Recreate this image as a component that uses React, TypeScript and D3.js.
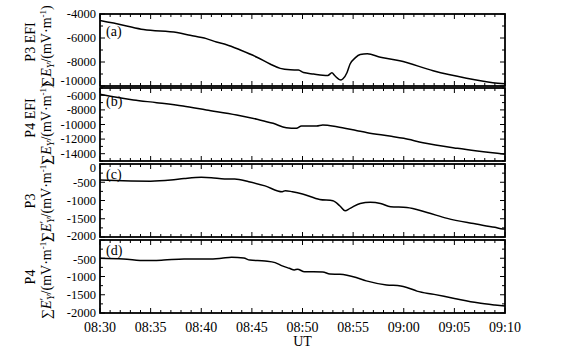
import * as d3 from "d3";

// minutes after 08:30 and summed field values
const p3EfiT = [0, 2.3, 4.3, 7.6, 8.9, 10.5, 11.5, 12.5, 13.8, 15.5, 16.8, 17.8, 18.8, 19.6, 20.1, 21.1, 22.0, 22.5, 22.9, 23.2, 23.8, 24.0, 24.4, 24.7, 25.2, 25.7, 26.4, 27.7, 29.6, 32.9, 36.2, 38.8, 40];
const p3EfiV = [-4550, -4930, -5300, -5550, -5770, -6050, -6340, -6560, -6980, -7600, -8170, -8530, -8650, -8670, -8880, -9000, -9100, -9120, -8900, -9150, -9500, -9400, -8870, -8170, -7660, -7380, -7320, -7600, -7890, -8730, -9350, -9720, -9820];

const p4EfiT = [0, 3.3, 5.6, 8.2, 10.5, 13.5, 15.5, 17.1, 18.4, 19.4, 19.9, 21.4, 22.0, 23.4, 25.4, 26.4, 28.6, 30, 31.9, 35.3, 40];
const p4EfiV = [-5860, -6640, -7010, -7470, -8010, -8700, -9290, -9840, -10440, -10520, -10210, -10210, -10070, -10300, -10850, -11120, -11580, -11890, -12490, -13260, -14080];

const p3T = [0, 2.3, 5, 7, 8.3, 10, 11, 12.3, 13.3, 14.7, 16.3, 18, 18.3, 19, 20, 21.7, 23, 23.7, 24.2, 24.7, 25.7, 26.7, 27.7, 28.7, 30.3, 32.3, 34.3, 36.7, 39, 39.8, 40];
const p3V = [-440, -460, -470, -440, -400, -365, -375, -410, -410, -485, -600, -760, -730, -760, -820, -970, -1005, -1150, -1280, -1215, -1080, -1050, -1080, -1170, -1190, -1330, -1490, -1625, -1735, -1780, -1780];

const p4T = [0, 2.3, 4.5, 6.3, 8.3, 10.7, 12, 13, 14.2, 14.8, 16.3, 17.3, 18, 18.7, 19.2, 19.5, 20.2, 22, 22.7, 23.7, 25.3, 26.3, 28.3, 29.7, 30.3, 31.3, 33, 35, 37.3, 39, 40];
const p4V = [-500, -520, -565, -550, -520, -520, -500, -475, -495, -550, -575, -620, -710, -775, -820, -800, -870, -875, -930, -940, -1030, -1120, -1230, -1260, -1300, -1400, -1490, -1600, -1720, -1780, -1810];

const timeLabels = ["08:30", "08:35", "08:40", "08:45", "08:50", "08:55", "09:00", "09:05", "09:10"];
const panelLetters = ["(a)", "(b)", "(c)", "(d)"];
const panelNames = ["P3 EFI", "P4 EFI", "P3", "P4"];

const aTicks = [-4000, -6000, -8000, -10000];
const bTicks = [-6000, -8000, -10000, -12000, -14000];
const cTicks = [0, -500, -1000, -1500, -2000];
const dTicks = [-500, -1000, -1500, -2000];

const W = 566;
const H = 349;
const left = 100;
const right = 505;
const font = "'Liberation Serif', 'Times New Roman', serif";

const panels = [
  { t: p3EfiT, v: p3EfiV, top: 14, bottom: 86, domain: [-10000, -4000], ticks: aTicks, minor: 1000, prime: false, nameY: 42, unitY: 46, letterDy: 22, nudge: { "-10000": -5 } },
  { t: p4EfiT, v: p4EfiV, top: 88, bottom: 161, domain: [-15000, -5000], ticks: bTicks, minor: 1000, prime: false, nameY: 118, unitY: 124, letterDy: 18, nudge: {} },
  { t: p3T, v: p3V, top: 164, bottom: 237, domain: [-2000, 0], ticks: cTicks, minor: 250, prime: true, nameY: 201, unitY: 201, letterDy: 15, nudge: { "0": 4, "-2000": -1 } },
  { t: p4T, v: p4V, top: 240, bottom: 313, domain: [-2000, 0], ticks: dTicks, minor: 250, prime: true, nameY: 277, unitY: 278, letterDy: 15, nudge: { "-500": 1 } },
];

const x = d3.scaleLinear().domain([0, 40]).range([left, right]);

function UnitLabel({ cx, cy, prime }: { cx: number; cy: number; prime: boolean }) {
  return (
    <text transform={`translate(${cx},${cy}) rotate(-90)`} textAnchor="middle" fontSize={14} fontFamily={font}>
      <tspan>∑</tspan>
      <tspan fontStyle="italic">E</tspan>
      {prime ? <tspan dy={-4} fontSize={11}>′</tspan> : null}
      <tspan fontStyle="italic" fontSize={10} dy={prime ? 7 : 3} dx={prime ? -2 : 0}>Y</tspan>
      <tspan dy={-3}>/(mV·m</tspan>
      <tspan fontSize={9} dy={-5}>-1</tspan>
      <tspan dy={5}>)</tspan>
    </text>
  );
}

function Panel({ p, i }: { p: (typeof panels)[number]; i: number }) {
  const y = d3.scaleLinear().domain(p.domain).range([p.bottom, p.top]);
  const line = d3
    .line<number>()
    .x((_, k) => x(p.t[k]))
    .y((d) => y(d))
    .curve(d3.curveMonotoneX);
  const minorY = d3.range(p.domain[0], p.domain[1] + 1, p.minor);
  const majorStep = p.minor * 2;
  const minutes = d3.range(0, 41, 1);
  const nudge = p.nudge as Record<string, number>;
  return (
    <g>
      {minutes.map((m) => {
        const len = m % 5 === 0 ? 5 : 3;
        return (
          <g key={m} stroke="#000" strokeWidth={1}>
            <line x1={x(m)} x2={x(m)} y1={p.top} y2={p.top + len} />
            <line x1={x(m)} x2={x(m)} y1={p.bottom} y2={p.bottom - len} />
          </g>
        );
      })}
      {minorY.map((v) => {
        const len = Math.abs(v % majorStep) < 1e-6 ? 5 : 3;
        return (
          <g key={v} stroke="#000" strokeWidth={1}>
            <line x1={left} x2={left + len} y1={y(v)} y2={y(v)} />
            <line x1={right} x2={right - len} y1={y(v)} y2={y(v)} />
          </g>
        );
      })}
      {p.ticks.map((v) => (
        <text key={v} x={left - 4} y={y(v) + (nudge[String(v)] ?? 0)} dy="0.35em" textAnchor="end" fontSize={12.5} fontFamily={font}>
          {v}
        </text>
      ))}
      <path d={line(p.v) ?? ""} fill="none" stroke="#000" strokeWidth={1.5} />
      <rect x={left} y={p.top} width={right - left} height={p.bottom - p.top} fill="none" stroke="#000" strokeWidth={1.8} />
      <text x={left + 6} y={p.top + p.letterDy} fontSize={14} fontFamily={font}>
        {panelLetters[i]}
      </text>
      <text transform={`translate(35,${p.nameY}) rotate(-90)`} textAnchor="middle" fontSize={14} fontFamily={font}>
        {panelNames[i]}
      </text>
      <UnitLabel cx={51} cy={p.unitY} prime={p.prime} />
    </g>
  );
}

export default function App() {
  return (
    <svg width={W} height={H} style={{ position: "absolute", left: 0, top: 0, background: "#fff" }}>
      <rect width={W} height={H} fill="#fff" />
      {panels.map((p, i) => (
        <Panel key={i} p={p} i={i} />
      ))}
      {timeLabels.map((lab, k) => (
        <text key={lab} x={x(k * 5)} y={332} textAnchor="middle" fontSize={14} fontFamily={font}>
          {lab}
        </text>
      ))}
      <text x={x(20)} y={346} textAnchor="middle" fontSize={14} fontFamily={font}>
        UT
      </text>
    </svg>
  );
}
